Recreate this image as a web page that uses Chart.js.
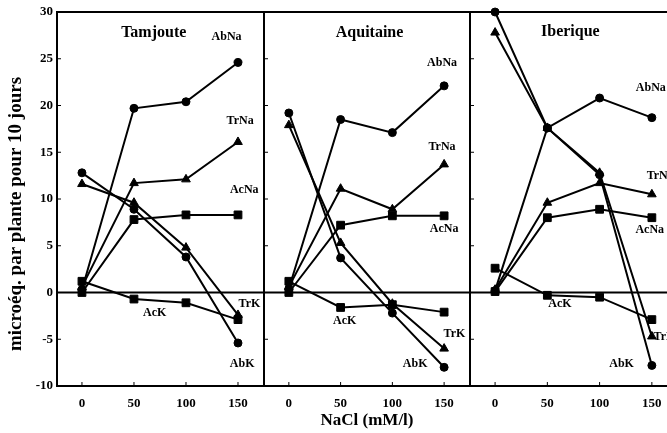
<!DOCTYPE html>
<html><head><meta charset="utf-8">
<script src="https://cdn.jsdelivr.net/npm/chart.js@4"></script>
<style>
html,body{margin:0;padding:0;background:#fff;}
body{width:667px;height:433px;overflow:hidden;position:relative;}
canvas{position:absolute;top:0;}
</style></head><body>
<canvas id="c1" width="265" height="433" style="left:0px"></canvas>
<canvas id="c2" width="208" height="433" style="left:263px"></canvas>
<canvas id="c3" width="210" height="433" style="left:469px"></canvas>
<script>
// ---- data ----
const nacl = [0, 50, 100, 150];
const xTicks = [0, 50, 100, 150];
const yTicks = [-10, -5, 0, 5, 10, 15, 20, 25, 30];
const panelNames = ['Tamjoute', 'Aquitaine', 'Iberique'];
const seriesNames = ['AbNa', 'TrNa', 'AcNa', 'AcK', 'TrK', 'AbK'];
const yTitle = 'microéq. par plante pour 10 jours';
const xTitle = 'NaCl (mM/l)';

const tamAbNa = [0.3, 19.7, 20.4, 24.6];
const tamTrNa = [0.6, 11.7, 12.1, 16.1];
const tamAcNa = [0.0, 7.8, 8.3, 8.3];
const tamAcK  = [1.2, -0.7, -1.1, -2.9];
const tamTrK  = [11.6, 9.6, 4.8, -2.4];
const tamAbK  = [12.8, 8.9, 3.8, -5.4];

const aquAbNa = [0.4, 18.5, 17.1, 22.1];
const aquTrNa = [0.6, 11.1, 8.9, 13.7];
const aquAcNa = [0.0, 7.2, 8.2, 8.2];
const aquAcK  = [1.2, -1.6, -1.3, -2.1];
const aquTrK  = [17.9, 5.3, -1.2, -6.0];
const aquAbK  = [19.2, 3.7, -2.2, -8.0];

const ibeAbNa = [0.2, 17.6, 20.8, 18.7];
const ibeTrNa = [0.3, 9.6, 11.7, 10.5];
const ibeAcNa = [0.1, 8.0, 8.9, 8.0];
const ibeAcK  = [2.6, -0.3, -0.5, -2.9];
const ibeTrK  = [27.8, 17.6, 12.8, -4.7];
const ibeAbK  = [30.0, 17.6, 12.6, -7.8];

// label anchor positions in data units (x = NaCl, y = value)
const labelPosTam = [[139, 27.3], [152, 18.3], [156, 11.0], [70, -2.2], [161, -1.2], [154, -7.6]];
const labelPosAqu = [[148, 24.6], [148, 15.6], [150, 6.8], [54, -3.0], [160, -4.4], [122, -7.6]];
const labelPosIbe = [[149, 21.9], [158, 12.5], [148, 6.7], [62, -1.2], [162, -4.8], [121, -7.6]];
const titlePos = [[69, 27.8], [78, 27.8], [72, 27.9]];

const panelSeries = [
  [tamAbNa, tamTrNa, tamAcNa, tamAcK, tamTrK, tamAbK],
  [aquAbNa, aquTrNa, aquAcNa, aquAcK, aquTrK, aquAbK],
  [ibeAbNa, ibeTrNa, ibeAcNa, ibeAcK, ibeTrK, ibeAbK]
];
const panelLabels = [labelPosTam, labelPosAqu, labelPosIbe];

// ---- styles ----
const FONT = "'Liberation Serif', 'Times New Roman', serif";
const markers = ['circle', 'triangle', 'rect', 'rect', 'triangle', 'circle'];
const markerSize = {circle: 4, triangle: 5, rect: 5.5};

const decoPlugin = {
  id: 'deco',
  afterDatasetsDraw(chart, args, opts) {
    const ctx = chart.ctx, a = chart.chartArea;
    const xs = chart.scales.x, ys = chart.scales.y;
    ctx.save();
    ctx.strokeStyle = '#000';
    // zero line
    ctx.lineWidth = 2;
    ctx.beginPath();
    ctx.moveTo(a.left, ys.getPixelForValue(0));
    ctx.lineTo(a.right, ys.getPixelForValue(0));
    ctx.stroke();
    // inner ticks
    ctx.lineWidth = 1;
    ctx.beginPath();
    yTicks.forEach(v => {
      const p = ys.getPixelForValue(v);
      ctx.moveTo(a.left, p); ctx.lineTo(a.left + 4, p);
    });
    xTicks.forEach(v => {
      const p = xs.getPixelForValue(v);
      ctx.moveTo(p, a.bottom); ctx.lineTo(p, a.bottom - 4);
    });
    ctx.stroke();
    // box
    ctx.lineWidth = 2;
    ctx.strokeRect(a.left, a.top, a.right - a.left, a.bottom - a.top);
    // texts
    ctx.fillStyle = '#000';
    ctx.textAlign = 'center';
    ctx.textBaseline = 'middle';
    ctx.font = 'bold 16px ' + FONT;
    const tp = titlePos[opts.panel];
    ctx.fillText(panelNames[opts.panel], xs.getPixelForValue(tp[0]), ys.getPixelForValue(tp[1]));
    ctx.font = 'bold 12px ' + FONT;
    panelLabels[opts.panel].forEach((p, i) => {
      ctx.fillText(seriesNames[i], xs.getPixelForValue(p[0]), ys.getPixelForValue(p[1]));
    });
    if (opts.panel === 0) {
      ctx.font = 'bold 19px ' + FONT;
      ctx.translate(16, 214);
      ctx.rotate(-Math.PI / 2);
      ctx.fillText(yTitle, 0, 0);
    }
    ctx.restore();
  }
};

function makeChart(id, panel) {
  const datasets = panelSeries[panel].map((vals, i) => ({
    label: seriesNames[i],
    data: nacl.map((x, k) => ({x: x, y: vals[k]})),
    borderColor: '#000',
    backgroundColor: '#000',
    borderWidth: 2,
    pointStyle: markers[i],
    pointRadius: markerSize[markers[i]],
    pointBorderWidth: 1,
    tension: 0,
    clip: 6
  }));
  const pad = panel === 0 ? {top: 12, left: 0, right: 1, bottom: 0}
            : {top: 12, left: 1, right: 1, bottom: 0};
  return new Chart(document.getElementById(id), {
    type: 'line',
    data: {datasets},
    options: {
      responsive: false,
      animation: false,
      layout: {padding: pad, autoPadding: false},
      plugins: {legend: {display: false}, tooltip: {enabled: false}, deco: {panel: panel}},
      scales: {
        x: {
          type: 'linear', min: -24, max: 175,
          grid: {display: false, drawTicks: false},
          border: {display: false},
          afterBuildTicks: s => { s.ticks = xTicks.map(v => ({value: v})); },
          afterFit: s => { s.height = 47; },
          ticks: {color: '#000', padding: 10, font: {family: FONT, size: 13, weight: 'bold'}, maxRotation: 0},
          title: {display: panel === 1, text: xTitle, color: '#000', padding: {top: 2, bottom: 2},
                  font: {family: FONT, size: 17, weight: 'bold'}}
        },
        y: {
          type: 'linear', min: -10, max: 30,
          display: panel === 0,
          grid: {display: false, drawTicks: false},
          border: {display: false},
          afterBuildTicks: s => { s.ticks = yTicks.map(v => ({value: v})); },
          afterFit: s => { if (panel === 0) s.width = 57; },
          ticks: {color: '#000', padding: 4, font: {family: FONT, size: 13, weight: 'bold'}}
        }
      }
    },
    plugins: [decoPlugin]
  });
}
makeChart('c1', 0);
makeChart('c2', 1);
makeChart('c3', 2);
</script>
</body></html>
